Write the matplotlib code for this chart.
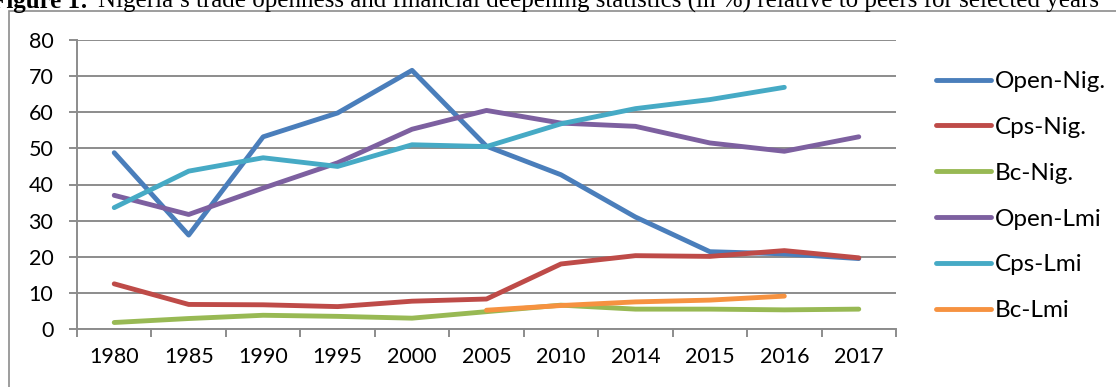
import matplotlib.pyplot as plt
from matplotlib.patches import Rectangle

years = ["1980", "1985", "1990", "1995", "2000", "2005", "2010", "2014", "2015", "2016", "2017"]

open_nig = [48.8, 26.0, 53.2, 59.8, 71.6, 50.6, 42.7, 31.0, 21.4, 20.8, 19.5]
cps_nig = [12.5, 6.8, 6.7, 6.2, 7.7, 8.3, 18.0, 20.3, 20.1, 21.7, 19.7]
bc_nig = [1.8, 2.9, 3.8, 3.5, 3.0, 4.8, 6.6, 5.5, 5.5, 5.3, 5.5]
open_lmi = [37.0, 31.7, 39.0, 46.0, 55.3, 60.5, 57.0, 56.1, 51.5, 49.2, 53.2]
cps_lmi = [33.6, 43.7, 47.4, 45.0, 51.0, 50.5, 56.8, 61.0, 63.5, 66.9, None]
bc_lmi = [None, None, None, None, None, 5.2, 6.5, 7.5, 8.0, 9.1, None]

series = [
    ("Open-Nig.", open_nig, "#4A7EBB"),
    ("Cps-Nig.", cps_nig, "#BE4B48"),
    ("Bc-Nig.", bc_nig, "#98B954"),
    ("Open-Lmi", open_lmi, "#7D60A0"),
    ("Cps-Lmi", cps_lmi, "#46AAC5"),
    ("Bc-Lmi", bc_lmi, "#F69240"),
]

W, H = 1116, 387
fig = plt.figure(figsize=(W / 100, H / 100), dpi=100)
ax = fig.add_axes([77 / W, 1 - 329 / H, (896 - 77) / W, (329 - 40) / H])

grid_c = "#8C8C8C"
for name, vals, color in series:
    xs = [i for i, v in enumerate(vals) if v is not None]
    ys = [v for v in vals if v is not None]
    ax.plot(xs, ys, color=color, lw=3.5, label=name, solid_capstyle="round",
            solid_joinstyle="round", zorder=3)

ax.set_xlim(-0.5, len(years) - 0.5)
ax.set_ylim(0, 80)
ax.set_yticks(range(0, 81, 10))
ax.yaxis.grid(True, color=grid_c, lw=1.4)
ax.set_axisbelow(True)
for s in ["top", "right"]:
    ax.spines[s].set_visible(False)
for s in ["left", "bottom"]:
    ax.spines[s].set_color(grid_c)
    ax.spines[s].set_linewidth(1.4)

ax.set_xticks(range(len(years)))
ax.set_xticklabels(years)
ax.set_xticks([i - 0.5 for i in range(len(years) + 1)], minor=True)
ax.tick_params(axis="x", which="major", length=0, pad=13)
ax.tick_params(axis="x", which="minor", length=6, width=1.4, color=grid_c)
ax.tick_params(axis="y", length=6, width=1.4, color=grid_c, pad=11)
for lab in ax.get_xticklabels() + ax.get_yticklabels():
    lab.set_fontfamily("Lato")
    lab.set_fontsize(15.5)

leg = ax.legend(loc="upper left", bbox_to_anchor=(924 / W, 1 - 59 / H),
                bbox_transform=fig.transFigure, frameon=False,
                prop={"family": "Lato", "size": 17.5}, handlelength=2.25,
                handletextpad=0.15, labelspacing=1.02, borderpad=0)

# outer chart border
fig.patches.append(Rectangle((9 / W, -0.1), 1.2, 1 - 11 / H + 0.1,
                             transform=fig.transFigure, fill=False,
                             edgecolor="#8C8C8C", lw=1.2))

# caption (cut off at the top in the source image)
fig.text(88 / W, 1 - 8 / H, "Figure 1:", ha="right", va="baseline",
         family="Liberation Serif", weight="bold", fontsize=18)
fig.text(98 / W, 1 - 8 / H,
         "Nigeria\u2019s trade openness and financial deepening statistics (in %) relative to peers for selected years",
         ha="left", va="baseline", family="Liberation Serif", fontsize=18)

fig.savefig("out.png", dpi=100)
